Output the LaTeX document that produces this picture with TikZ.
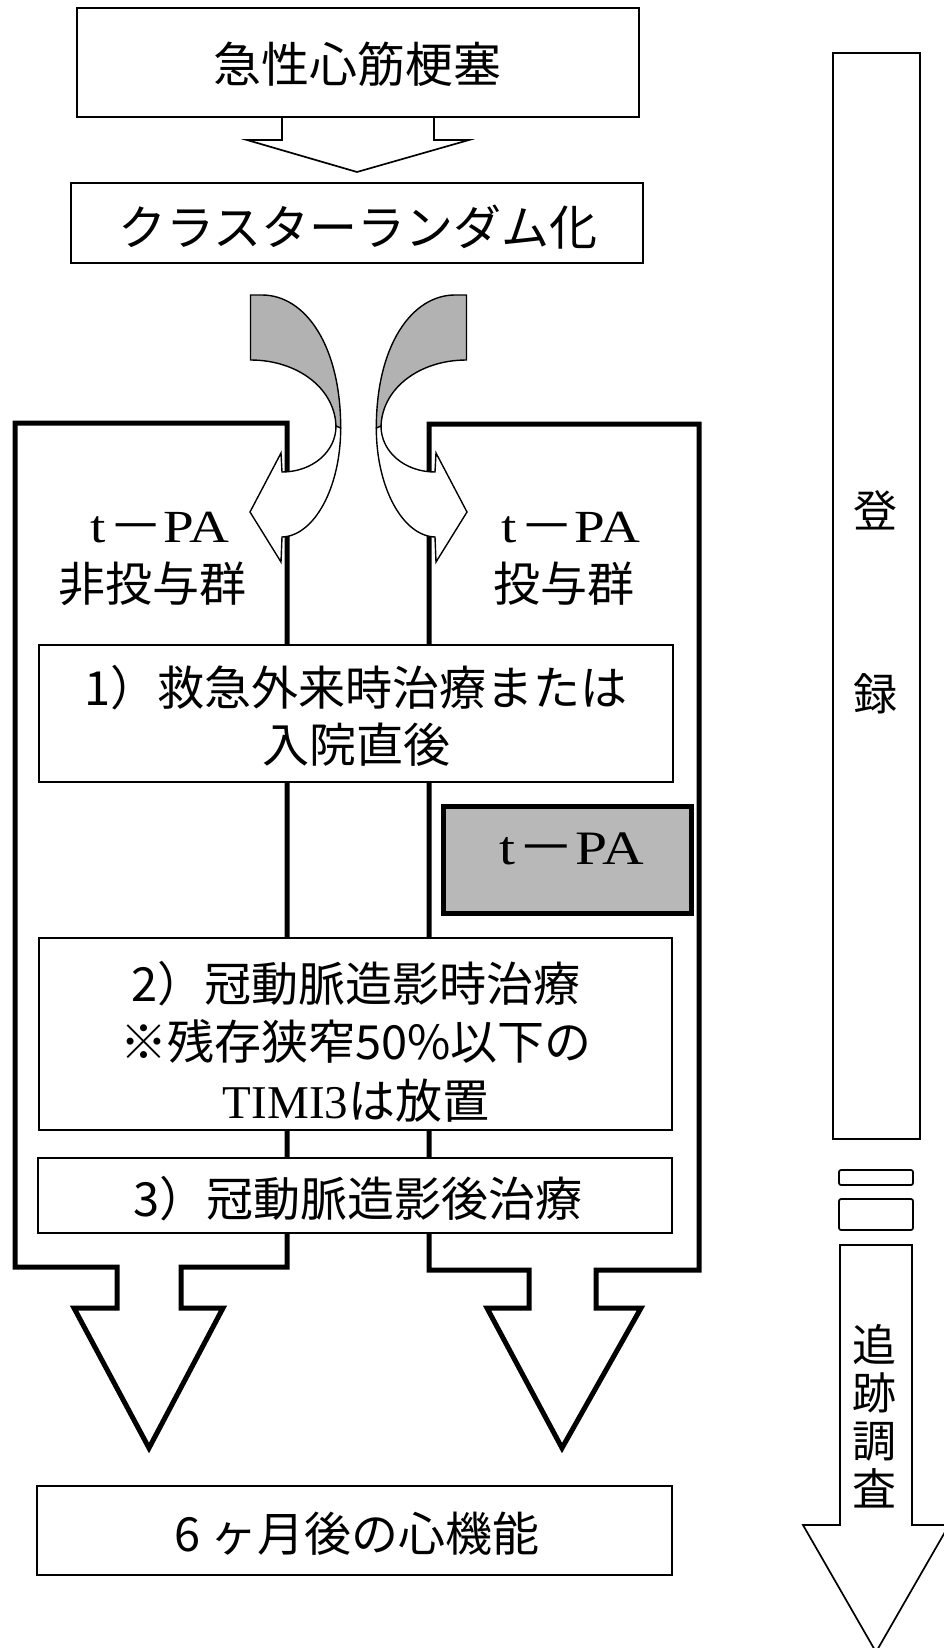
\documentclass[tikz,border=0pt]{standalone}
\usepackage{graphicx}
\usepackage{fontspec}
\setmainfont{Liberation Serif}
\newfontfamily\jp{Noto Sans CJK JP}
\newcommand\tdash{{\jp －}}
\newcommand\tpatext{\scalebox{1.2}[1]{t\hspace{0.04em}\tdash PA}}
\begin{document}
\begin{tikzpicture}[x=1pt,y=-1pt,
  box/.style={draw, line width=1.7pt, fill=white, inner sep=0pt},
  txt/.style={inner sep=0pt, align=center, font=\jp\fontsize{47}{58}\selectfont},
  lat/.style={inner sep=0pt, align=center, font=\fontsize{46}{50}\selectfont},
  col/.style={draw, line width=5pt, line join=miter},
  thinarrow/.style={draw, line width=1.7pt, fill=white, line join=miter},
  back/.style={draw, line width=1.4pt, fill=black!30},
  front/.style={draw, line width=1.4pt, fill=white},
  tpabox/.style={draw, line width=5pt, fill=black!28, inner sep=0pt}
]
\useasboundingbox (0,0) rectangle (943,1648);
\fill[white] (0,0) rectangle (943,1648);

% ---- column outlines with bottom block arrows ----
\draw[col] (15,423) -- (287,423) -- (287,1267) -- (181,1267) -- (181,1308) -- (223,1308)
  -- (149,1448) -- (74,1308) -- (117,1308) -- (117,1267) -- (15,1267) -- cycle;
\draw[col] (429,424) -- (699,424) -- (699,1270) -- (596,1270) -- (596,1308) -- (641,1308)
  -- (562,1448) -- (487,1308) -- (529,1308) -- (529,1270) -- (429,1270) -- cycle;

% ---- curved arrows (left, then mirrored right) ----
\foreach \mir in {0,1}{
\begin{scope}[xshift=\mir*717pt, xscale=1-2*\mir]
  \path[back] (250.5,295) -- (262,295) .. controls (305,295) and (340.7,345) .. (340.7,428)
    -- (336,428) .. controls (336,389) and (298,360) .. (250.5,360) -- cycle;
  \path[front] (340.7,428) .. controls (340.7,488) and (314,536) .. (282,537)
    -- (281,562) -- (250,512) -- (281,453) -- (282,472)
    .. controls (312,472) and (336,452) .. (336,426) -- cycle;
\end{scope}
}

% ---- top arrow ----
\draw[thinarrow] (282,110) -- (282,140) -- (247,140) -- (357,172) -- (469,140) -- (434,140) -- (434,110);

% ---- boxes ----
\node[box, minimum width=562pt, minimum height=109pt] (ami) at (358,62.5) {};
\node[txt, font=\jp\fontsize{48}{58}\selectfont] (amit) at (357,64) {急性心筋梗塞};
\node[box, minimum width=572pt, minimum height=80pt] (rand) at (357,223) {};
\node[txt, font=\jp\fontsize{48}{58}\selectfont] (randt) at (358,227) {クラスターランダム化};

\node[lat] (lh1) at (160,527.5) {\tpatext};
\node[txt] (lh2) at (152,584) {非投与群};
\node[lat] (rh1) at (571,527.5) {\tpatext};
\node[txt] (rh2) at (564,584) {投与群};

\node[box, minimum width=634pt, minimum height=137pt] (s1) at (356,713.5) {};
\node[txt, font=\jp\fontsize{47}{57.5}\selectfont] (s1t) at (356,716) {1）救急外来時治療または\\入院直後};

\node[tpabox, minimum width=248pt, minimum height=107pt] (tpa) at (567,859.5) {};
\node[lat, font=\fontsize{48}{50}\selectfont] (tpat) at (571.5,849) {\tpatext};

\node[box, minimum width=633pt, minimum height=192pt] (s2) at (355.5,1034) {};
\node[txt, font=\jp\fontsize{47}{58.5}\selectfont] (s2t) at (356,1041.5)
  {2）冠動脈造影時治療\\※残存狭窄50\%以下の\\{\rmfamily TIMI3}は放置};

\node[box, minimum width=634pt, minimum height=75pt] (s3) at (355,1195.5) {};
\node[txt] (s3t) at (358,1199) {3）冠動脈造影後治療};

\node[box, minimum width=635pt, minimum height=89pt] (res) at (354.5,1530.5) {};
\node[txt] (rest) at (357,1534) {6 ヶ月後の心機能};

% ---- right timeline ----
\node[box, minimum width=87pt, minimum height=1086pt] (reg) at (876.5,596) {};
\node[txt, font=\jp\fontsize{44}{50}\selectfont] (reg1) at (875,510) {登};
\node[txt, font=\jp\fontsize{44}{50}\selectfont] (reg2) at (875,694) {録};
\node[box, rounded corners=2pt, minimum width=74pt, minimum height=15pt] (gap1) at (876,1177.5) {};
\node[box, rounded corners=2pt, minimum width=74pt, minimum height=31pt] (gap2) at (876,1214.5) {};
\draw[thinarrow] (840,1245) -- (912,1245) -- (912,1525) -- (949,1525) -- (876,1652) -- (803,1525) -- (840,1525) -- cycle;
\node[txt, font=\jp\fontsize{44}{48}\selectfont] (fol) at (874,1416) {追\\跡\\調\\査};
\end{tikzpicture}
\end{document}
